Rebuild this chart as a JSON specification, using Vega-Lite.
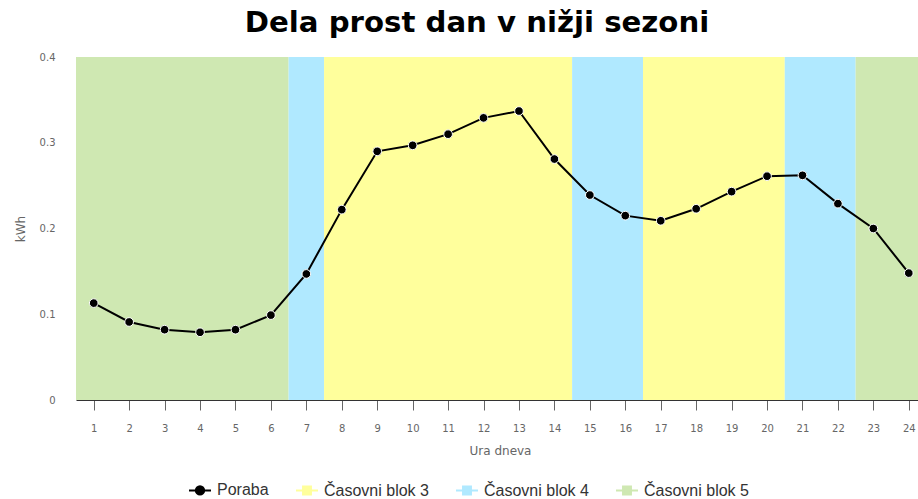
{
  "$schema": "https://vega.github.io/schema/vega-lite/v6.json",
  "width": 842,
  "height": 343,
  "autosize": {"type": "none"},
  "padding": {"left": 76, "top": 57, "right": 0, "bottom": 99},
  "background": "white",
  "title": {
    "text": "Dela prost dan v nižji sezoni",
    "font": "DejaVu Sans",
    "fontSize": 29.2,
    "fontWeight": "bold",
    "color": "#000000",
    "anchor": "middle",
    "dx": -20,
    "offset": 14
  },
  "config": {
    "view": {"stroke": null},
    "axis": {"labelFont": "DejaVu Sans", "titleFont": "DejaVu Sans", "labelColor": "#666666", "titleColor": "#666666", "grid": false},
    "legend": {"labelFont": "Liberation Sans"}
  },
  "datasets": {
    "bands": [
      {"start": 0.5, "end": 6.5, "serie": "Časovni blok 5"},
      {"start": 6.5, "end": 7.5, "serie": "Časovni blok 4"},
      {"start": 7.5, "end": 14.5, "serie": "Časovni blok 3"},
      {"start": 14.5, "end": 16.5, "serie": "Časovni blok 4"},
      {"start": 16.5, "end": 20.5, "serie": "Časovni blok 3"},
      {"start": 20.5, "end": 22.5, "serie": "Časovni blok 4"},
      {"start": 22.5, "end": 24.5, "serie": "Časovni blok 5"}
    ],
    "poraba": [
      {"ura": 1, "kwh": 0.113, "serie": "Poraba"},
      {"ura": 2, "kwh": 0.091, "serie": "Poraba"},
      {"ura": 3, "kwh": 0.082, "serie": "Poraba"},
      {"ura": 4, "kwh": 0.079, "serie": "Poraba"},
      {"ura": 5, "kwh": 0.082, "serie": "Poraba"},
      {"ura": 6, "kwh": 0.099, "serie": "Poraba"},
      {"ura": 7, "kwh": 0.147, "serie": "Poraba"},
      {"ura": 8, "kwh": 0.222, "serie": "Poraba"},
      {"ura": 9, "kwh": 0.290, "serie": "Poraba"},
      {"ura": 10, "kwh": 0.297, "serie": "Poraba"},
      {"ura": 11, "kwh": 0.310, "serie": "Poraba"},
      {"ura": 12, "kwh": 0.329, "serie": "Poraba"},
      {"ura": 13, "kwh": 0.337, "serie": "Poraba"},
      {"ura": 14, "kwh": 0.281, "serie": "Poraba"},
      {"ura": 15, "kwh": 0.239, "serie": "Poraba"},
      {"ura": 16, "kwh": 0.215, "serie": "Poraba"},
      {"ura": 17, "kwh": 0.209, "serie": "Poraba"},
      {"ura": 18, "kwh": 0.223, "serie": "Poraba"},
      {"ura": 19, "kwh": 0.243, "serie": "Poraba"},
      {"ura": 20, "kwh": 0.261, "serie": "Poraba"},
      {"ura": 21, "kwh": 0.262, "serie": "Poraba"},
      {"ura": 22, "kwh": 0.229, "serie": "Poraba"},
      {"ura": 23, "kwh": 0.200, "serie": "Poraba"},
      {"ura": 24, "kwh": 0.148, "serie": "Poraba"}
    ]
  },
  "layer": [
    {
      "data": {"name": "bands"},
      "mark": {"type": "rect", "clip": true},
      "encoding": {
        "x": {
          "field": "start", "type": "quantitative",
          "scale": {"domain": [0.5, 24.26], "nice": false, "zero": false},
          "axis": {
            "title": "Ura dneva",
            "values": [1,2,3,4,5,6,7,8,9,10,11,12,13,14,15,16,17,18,19,20,21,22,23,24],
            "labelFontSize": 10,
            "titleFontSize": 12,
            "titleFontWeight": "normal",
            "domainColor": "#333333",
            "tickColor": "#666666",
            "tickSize": 10,
            "labelPadding": 13,
            "titlePadding": 12,
            "titleX": 424,
            "labelFlush": false,
            "labelOverlap": false
          }
        },
        "x2": {"field": "end"},
        "color": {
          "field": "serie", "type": "nominal",
          "scale": {
            "domain": ["Poraba", "Časovni blok 3", "Časovni blok 4", "Časovni blok 5"],
            "range": ["#000000", "#ffff9c", "#b0e9ff", "#cfe8b2"]
          },
          "legend": {
            "title": null,
            "orient": "none",
            "direction": "horizontal",
            "legendX": 112,
            "legendY": 421,
            "labelFontSize": 16,
            "labelColor": "#333333",
            "symbolSize": 484,
            "columnPadding": 23,
            "labelOffset": 5,
            "encode": {
              "symbols": {
                "update": {
                  "shape": {"signal": "datum.value === 'Poraba' ? 'M-1,0H-0.4M0.4,0H1M-0.38,0A0.38,0.38,0,1,1,0.38,0A0.38,0.38,0,1,1,-0.38,0Z' : 'M-1,0H-0.36M0.36,0H1M-0.36,-0.36H0.36V0.36H-0.36Z'"},
                  "fill": {"signal": "scale('color', datum.value)"},
                  "stroke": {"signal": "scale('color', datum.value)"},
                  "strokeWidth": {"value": 2},
                  "opacity": {"value": 1}
                }
              }
            }
          }
        }
      }
    },
    {
      "data": {"name": "poraba"},
      "mark": {"type": "line", "strokeWidth": 2},
      "encoding": {
        "x": {
          "field": "ura", "type": "quantitative",
          "axis": {
            "title": "Ura dneva",
            "values": [1,2,3,4,5,6,7,8,9,10,11,12,13,14,15,16,17,18,19,20,21,22,23,24],
            "labelFontSize": 10,
            "titleFontSize": 12,
            "titleFontWeight": "normal",
            "domainColor": "#333333",
            "tickColor": "#666666",
            "tickSize": 10,
            "labelPadding": 13,
            "titlePadding": 12,
            "titleX": 424,
            "labelFlush": false,
            "labelOverlap": false
          }
        },
        "y": {
          "field": "kwh", "type": "quantitative",
          "scale": {"domain": [0, 0.4], "nice": false},
          "axis": {
            "title": "kWh",
            "values": [0, 0.1, 0.2, 0.3, 0.4],
            "format": ".1~f",
            "domain": false,
            "ticks": false,
            "labelFontSize": 10,
            "labelPadding": 21,
            "titleFontSize": 12,
            "titleFontWeight": "normal",
            "titlePadding": 12
          }
        },
        "color": {"field": "serie", "type": "nominal"}
      }
    },
    {
      "data": {"name": "poraba"},
      "mark": {"type": "point", "filled": true, "size": 75, "stroke": "#ffffff", "strokeWidth": 1, "opacity": 1, "shape": "circle"},
      "encoding": {
        "x": {
          "field": "ura", "type": "quantitative",
          "axis": {
            "title": "Ura dneva",
            "values": [1,2,3,4,5,6,7,8,9,10,11,12,13,14,15,16,17,18,19,20,21,22,23,24],
            "labelFontSize": 10,
            "titleFontSize": 12,
            "titleFontWeight": "normal",
            "domainColor": "#333333",
            "tickColor": "#666666",
            "tickSize": 10,
            "labelPadding": 13,
            "titlePadding": 12,
            "titleX": 424,
            "labelFlush": false,
            "labelOverlap": false
          }
        },
        "y": {"field": "kwh", "type": "quantitative"},
        "fill": {"value": "#000000"}
      }
    }
  ]
}
